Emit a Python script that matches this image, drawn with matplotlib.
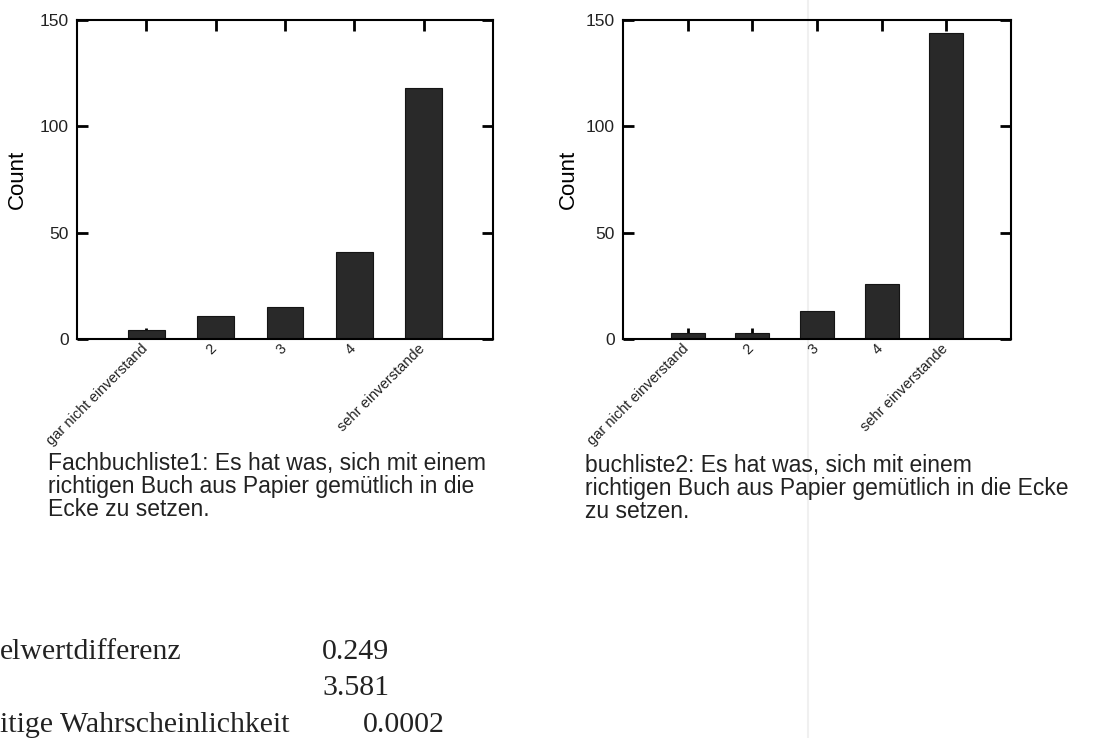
import matplotlib.pyplot as plt
from matplotlib.lines import Line2D
from matplotlib.transforms import ScaledTranslation

categories = ["gar nicht einverstand", "2", "3", "4", "sehr einverstande"]
counts_liste1 = [4, 11, 15, 41, 118]
counts_liste2 = [3, 3, 13, 26, 144]
yticks = [0, 50, 100, 150]

caption1 = ("Fachbuchliste1: Es hat was, sich mit einem\n"
            "richtigen Buch aus Papier gemütlich in die\n"
            "Ecke zu setzen.")
caption2 = ("buchliste2: Es hat was, sich mit einem\n"
            "richtigen Buch aus Papier gemütlich in die Ecke\n"
            "zu setzen.")

stat_labels = ["elwertdifferenz", "", "itige Wahrscheinlichkeit"]
stat_values = ["0.249", "3.581", "0.0002"]

plt.rcParams['font.family'] = 'Liberation Sans'

fig = plt.figure(figsize=(11.06, 7.38), dpi=100)

# faint page fold of the scan, behind everything
fig.add_artist(Line2D([808 / 1106, 808 / 1106], [0, 1], color='#f0f0f0', linewidth=1.5, zorder=0))


def panel(rect, counts, label_x):
    ax = fig.add_axes(rect)
    ax.set_facecolor('none')
    x = list(range(1, len(categories) + 1))
    ax.bar(x, counts, width=0.53, color='#292929', edgecolor='#151515', linewidth=0.8, zorder=3)
    ax.set_xlim(0, 6)
    ax.set_ylim(0, 150)
    ax.set_yticks(yticks)
    ax.set_xticks(x)
    ax.set_xticklabels(categories, rotation=45, ha='right', va='top',
                       rotation_mode='anchor', fontsize=10.5)
    ax.tick_params(axis='x', direction='in', length=8, width=2, top=True, bottom=True, pad=2)
    ax.tick_params(axis='y', direction='in', length=8, width=2, left=True, right=True,
                   labelsize=12.5, pad=6)
    for s in ax.spines.values():
        s.set_linewidth(1.5)
        s.set_zorder(4)
    ax.set_ylabel('Count', fontsize=16)
    ax.yaxis.set_label_coords(label_x, 0.5)
    shift = ScaledTranslation(-6 / 100, 0, fig.dpi_scale_trans)
    for t in ax.get_xticklabels():
        t.set_transform(t.get_transform() + shift)
    for t in ax.get_xticklabels() + ax.get_yticklabels():
        t.set_color('#222222')
    return ax


panel([0.0696, 0.5407, 0.3761, 0.4322], counts_liste1, -0.118)
panel([0.5633, 0.5407, 0.3508, 0.4322], counts_liste2, -0.113)

fig.text(48 / 1106, 1 - 452 / 738, caption1, fontsize=16.5, va='top', ha='left',
         linespacing=1.0, color='#222222')
fig.text(585 / 1106, 1 - 454 / 738, caption2, fontsize=16.5, va='top', ha='left',
         linespacing=1.0, color='#222222')

# statistics lines at the bottom
baselines = [659, 695, 732]
value_x = [322, 322, 363]
for lab, val, yb, vx in zip(stat_labels, stat_values, baselines, value_x):
    fig.text(0, 1 - yb / 738, lab, fontsize=21.5, family='Liberation Serif',
             va='baseline', ha='left', color='#222222')
    fig.text(vx / 1106, 1 - yb / 738, val, fontsize=21.5, family='Liberation Serif',
             va='baseline', ha='left', color='#222222')

fig.savefig('out.png', dpi=100)
